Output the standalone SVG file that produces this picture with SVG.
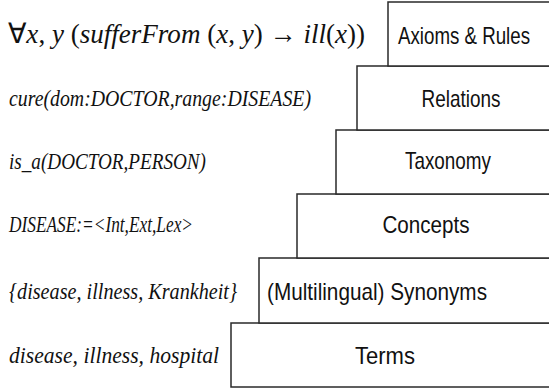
<svg xmlns="http://www.w3.org/2000/svg" width="549" height="388" viewBox="0 0 549 388">
<style>
.box{fill:#fff;stroke:#2a2a2a;stroke-width:1.5}
.lbl{fill:#111;text-anchor:middle;font-family:"Liberation Sans",Arial,sans-serif;font-size:24px}
.ex{fill:#111}
</style>
<rect width="549" height="388" fill="#fff"/>
<g id="terms">
<rect class="box" x="231" y="323" width="330" height="64"/>
<text class="lbl" x="385" y="364" textLength="60" lengthAdjust="spacingAndGlyphs">Terms</text>
</g>
<g id="synonyms">
<rect class="box" x="259" y="258" width="300" height="65"/>
<text class="lbl" x="377" y="300" textLength="220" lengthAdjust="spacingAndGlyphs">(Multilingual) Synonyms</text>
</g>
<g id="concepts">
<rect class="box" x="297" y="194" width="270" height="64"/>
<text class="lbl" x="426" y="233" textLength="87" lengthAdjust="spacingAndGlyphs">Concepts</text>
</g>
<g id="taxonomy">
<rect class="box" x="336" y="130" width="230" height="64"/>
<text class="lbl" x="448" y="169" textLength="86" lengthAdjust="spacingAndGlyphs">Taxonomy</text>
</g>
<g id="relations">
<rect class="box" x="357" y="66" width="210" height="64"/>
<text class="lbl" x="461" y="107" textLength="79" lengthAdjust="spacingAndGlyphs">Relations</text>
</g>
<g id="axioms">
<rect class="box" x="388" y="2" width="180" height="64"/>
<text class="lbl" x="464" y="44" textLength="132" lengthAdjust="spacingAndGlyphs">Axioms &amp; Rules</text>
</g>
<g id="connectors"></g>
<g id="examples" font-family="Liberation Serif, Times New Roman, serif">
<text class="ex" x="8" y="43" font-size="28" textLength="357" lengthAdjust="spacingAndGlyphs">∀<tspan font-style="italic">x</tspan>, <tspan font-style="italic">y</tspan> (<tspan font-style="italic">sufferFrom</tspan> (<tspan font-style="italic">x</tspan>, <tspan font-style="italic">y</tspan>) → <tspan font-style="italic">ill</tspan>(<tspan font-style="italic">x</tspan>))</text>
<g font-style="italic" font-size="24">
<text class="ex" x="9" y="106" textLength="302" lengthAdjust="spacingAndGlyphs">cure(dom:DOCTOR,range:DISEASE)</text>
<text class="ex" x="9" y="169" textLength="197" lengthAdjust="spacingAndGlyphs">is_a(DOCTOR,PERSON)</text>
<text class="ex" x="9" y="232" textLength="184" lengthAdjust="spacingAndGlyphs">DISEASE:=&lt;Int,Ext,Lex&gt;</text>
<text class="ex" x="9" y="299" textLength="228" lengthAdjust="spacingAndGlyphs">{disease, illness, Krankheit}</text>
<text class="ex" x="9" y="363" textLength="210" lengthAdjust="spacingAndGlyphs">disease, illness, hospital</text>
</g>
</g>
</svg>
